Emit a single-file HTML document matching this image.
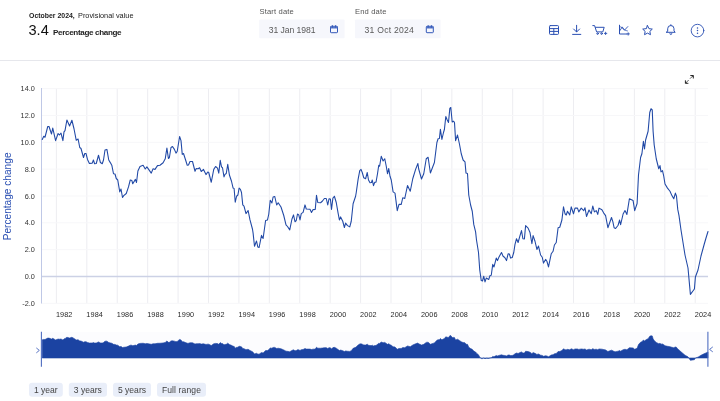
<!DOCTYPE html>
<html lang="en"><head><meta charset="utf-8"><title>Chart</title>
<style>
html,body{margin:0;padding:0;background:#fff;}
body{width:720px;height:401px;position:relative;overflow:hidden;font-family:"Liberation Sans","DejaVu Sans",sans-serif;color:#222;}
.abs{position:absolute;white-space:nowrap;}
.t1{left:29px;top:9.5px;font-size:7.9px;line-height:12px;color:#222;}
.t1 b{font-weight:700;color:#222;}
.big{left:28.5px;top:21px;font-size:14.6px;line-height:18px;color:#111;}
.pc{left:53px;top:27.5px;font-size:8.1px;line-height:10px;font-weight:700;color:#222;letter-spacing:-0.35px;}
.lbl{font-size:7.6px;line-height:10px;color:#555;top:6.7px;letter-spacing:0.15px;}
.inp{top:19.5px;height:18.9px;width:85.5px;}
.inp span{position:absolute;left:9.5px;top:5.1px;font-size:8.6px;line-height:10px;color:#5a5a5a;letter-spacing:0.3px;}
.sep{left:0;top:60px;width:720px;height:1px;background:#e6e7ec;}
.btn{top:383.3px;height:12.7px;font-size:8.55px;line-height:14.6px;color:#444;text-align:center;}
svg{position:absolute;left:0;top:0;}
svg text{font-family:"Liberation Sans","DejaVu Sans",sans-serif;}
</style></head><body>
<svg width="720" height="401" viewBox="0 0 720 401">
<rect x="259.200" y="19.400" width="85.400" height="18.900" rx="1" fill="#f6f7fc"/>
<rect x="355" y="19.400" width="85.600" height="18.900" rx="1" fill="#f6f7fc"/>
<rect x="29" y="382.700" width="33.800" height="14.100" rx="3" fill="#e9eef9"/>
<rect x="68.800" y="382.700" width="38.200" height="14.100" rx="3" fill="#e9eef9"/>
<rect x="113" y="382.700" width="38" height="14.100" rx="3" fill="#e9eef9"/>
<rect x="157" y="382.700" width="49" height="14.100" rx="3" fill="#e9eef9"/>
</svg>
<div class="abs t1" style="transform-origin:0 0;transform:scaleX(0.877)"><b>October 2024,</b></div>
<div class="abs t1" style="left:78.3px;transform-origin:0 0;transform:scaleX(0.93)">Provisional value</div>
<div class="abs big">3.4</div>
<div class="abs pc">Percentage change</div>
<div class="abs lbl" style="left:259.5px">Start date</div>
<div class="abs inp" style="left:259.2px"><span style="letter-spacing:-0.05px">31 Jan 1981</span></div>
<div class="abs lbl" style="left:355px">End date</div>
<div class="abs inp" style="left:355px"><span style="letter-spacing:0.25px">31 Oct 2024</span></div>
<div class="abs sep"></div>
<div class="abs btn" style="left:29.3px;width:33px">1 year</div>
<div class="abs btn" style="left:69px;width:37.7px">3 years</div>
<div class="abs btn" style="left:113.3px;width:37.4px">5 years</div>
<div class="abs btn" style="left:157.3px;width:48.4px;letter-spacing:0.12px">Full range</div>
<svg width="720" height="401" viewBox="0 0 720 401">
<!-- calendar icons -->
<g id="cal1" transform="translate(330,25)" fill="none" stroke="#3358b8" stroke-width="1">
<rect x="0.5" y="1.300" width="7" height="6.400" rx="0.700"/>
<rect x="0.500" y="1.300" width="7" height="2.200" fill="#5475c8" stroke="none"/>
<line x1="2.400" y1="0.200" x2="2.400" y2="2.600"/><line x1="5.600" y1="0.200" x2="5.600" y2="2.600"/>
</g>
<g transform="translate(425.800,25)" fill="none" stroke="#3358b8" stroke-width="1">
<rect x="0.5" y="1.300" width="7" height="6.400" rx="0.700"/>
<rect x="0.500" y="1.300" width="7" height="2.200" fill="#5475c8" stroke="none"/>
<line x1="2.400" y1="0.200" x2="2.400" y2="2.600"/><line x1="5.600" y1="0.200" x2="5.600" y2="2.600"/>
</g>
<!-- toolbar icons -->
<g fill="none" stroke="#2b50b3" stroke-width="1" stroke-linecap="round" stroke-linejoin="round">
<!-- table -->
<rect x="549.5" y="25.600" width="9" height="8.800" rx="0.800"/>
<line x1="549.5" y1="28.600" x2="558.5" y2="28.600"/><line x1="549.5" y1="31.400" x2="558.5" y2="31.400"/><line x1="553.800" y1="28.600" x2="553.800" y2="34.400"/>
<!-- download -->
<path d="M576.6 25.3V31.8M573.6 29l3 3 3-3M572.6 34.4h8.2"/>
<!-- cart -->
<path d="M592.8 25.6h1.8l2 6.3h6.2l1.4-4.6h-8.6"/>
<circle cx="597.6" cy="33.6" r="0.8"/><circle cx="601.6" cy="33.6" r="0.8"/>
<path d="M604.4 33.4h2.4M605.6 32.2v2.4" stroke-width="0.9"/>
<!-- chart -->
<path d="M619.5 25.2v8.8h7.5"/>
<path d="M620 30.5l2.2-3.6 2.3 3.3 3.3-3.6" stroke-width="0.9"/>
<path d="M620 26.5c2 0 3.5 4.500 7.500 4.500" stroke-width="0.7"/>
<path d="M627 33.900h2.4M628.2 32.800v2.300" stroke-width="0.9"/>
<!-- star -->
<path d="M647.5 25.600l1.450 3.050 3.350 0.450-2.450 2.300 0.620 3.300-2.970-1.620-2.970 1.620 0.620-3.300-2.450-2.300 3.350-0.450z"/>
<!-- bell -->
<path d="M666.500 32.300h8.700l-1.200-1.400v-2.200a3.150 3.150 0 0 0-6.300 0v2.200zM669.900 33.600a0.950 0.950 0 0 0 1.900 0M670.850 24.700v0.700"/>
<!-- more -->
<circle cx="697.5" cy="30.600" r="6.300" stroke-width="0.9"/>
</g>
<g fill="#2b50b3"><circle cx="697.5" cy="27.900" r="0.750"/><circle cx="697.5" cy="30.600" r="0.750"/><circle cx="697.5" cy="33.300" r="0.750"/></g>
<!-- expand -->
<g stroke="#222" fill="none" stroke-linecap="butt">
<path d="M690 78.700L693 75.700M688.700 80L685.600 83.100" stroke="#444" stroke-width="0.850"/>
<path d="M690.300 75.500h3v3" stroke-width="0.950"/><path d="M685.400 80.300v3h3" stroke-width="0.950"/>
<path d="M691.600 75.500h1.700v1.700z" fill="#222" stroke="none"/><path d="M685.400 81.600v1.700h1.700z" fill="#222" stroke="none"/>
</g>
<!-- grid -->
<g stroke="#ededf1" stroke-width="1" shape-rendering="auto"><line x1="56.40" y1="88" x2="56.40" y2="303.5"/><line x1="86.82" y1="88" x2="86.82" y2="303.5"/><line x1="117.24" y1="88" x2="117.24" y2="303.5"/><line x1="147.66" y1="88" x2="147.66" y2="303.5"/><line x1="178.08" y1="88" x2="178.08" y2="303.5"/><line x1="208.50" y1="88" x2="208.50" y2="303.5"/><line x1="238.92" y1="88" x2="238.92" y2="303.5"/><line x1="269.34" y1="88" x2="269.34" y2="303.5"/><line x1="299.76" y1="88" x2="299.76" y2="303.5"/><line x1="330.18" y1="88" x2="330.18" y2="303.5"/><line x1="360.60" y1="88" x2="360.60" y2="303.5"/><line x1="391.02" y1="88" x2="391.02" y2="303.5"/><line x1="421.44" y1="88" x2="421.44" y2="303.5"/><line x1="451.86" y1="88" x2="451.86" y2="303.5"/><line x1="482.28" y1="88" x2="482.28" y2="303.5"/><line x1="512.70" y1="88" x2="512.70" y2="303.5"/><line x1="543.12" y1="88" x2="543.12" y2="303.5"/><line x1="573.54" y1="88" x2="573.54" y2="303.5"/><line x1="603.96" y1="88" x2="603.96" y2="303.5"/><line x1="634.38" y1="88" x2="634.38" y2="303.5"/><line x1="664.80" y1="88" x2="664.80" y2="303.5"/><line x1="695.22" y1="88" x2="695.22" y2="303.5"/></g>
<g stroke="#f7f7f9" stroke-width="1"><line x1="41.5" y1="88.62" x2="708" y2="88.62"/><line x1="41.5" y1="115.46" x2="708" y2="115.46"/><line x1="41.5" y1="142.30" x2="708" y2="142.30"/><line x1="41.5" y1="169.14" x2="708" y2="169.14"/><line x1="41.5" y1="195.98" x2="708" y2="195.98"/><line x1="41.5" y1="222.82" x2="708" y2="222.82"/><line x1="41.5" y1="249.66" x2="708" y2="249.66"/><line x1="41.5" y1="303.34" x2="708" y2="303.34"/></g>
<line x1="41.500" y1="276.500" x2="708" y2="276.500" stroke="#ccd1e5" stroke-width="1.300"/>
<line x1="41.500" y1="88" x2="41.500" y2="303.500" stroke="#bfc8e6" stroke-width="1"/>
<g font-size="7.300" fill="#333"><text x="34.8" y="91.22" text-anchor="end">14.0</text><text x="34.8" y="118.06" text-anchor="end">12.0</text><text x="34.8" y="144.90" text-anchor="end">10.0</text><text x="34.8" y="171.74" text-anchor="end">8.0</text><text x="34.8" y="198.58" text-anchor="end">6.0</text><text x="34.8" y="225.42" text-anchor="end">4.0</text><text x="34.8" y="252.26" text-anchor="end">2.0</text><text x="34.8" y="279.10" text-anchor="end">0.0</text><text x="34.8" y="305.94" text-anchor="end">-2.0</text></g>
<g font-size="7.300" fill="#2a2a2a"><text x="55.90" y="317" letter-spacing="0.1">1982</text><text x="86.32" y="317" letter-spacing="0.1">1984</text><text x="116.74" y="317" letter-spacing="0.1">1986</text><text x="147.16" y="317" letter-spacing="0.1">1988</text><text x="177.58" y="317" letter-spacing="0.1">1990</text><text x="208.00" y="317" letter-spacing="0.1">1992</text><text x="238.42" y="317" letter-spacing="0.1">1994</text><text x="268.84" y="317" letter-spacing="0.1">1996</text><text x="299.26" y="317" letter-spacing="0.1">1998</text><text x="329.68" y="317" letter-spacing="0.1">2000</text><text x="360.10" y="317" letter-spacing="0.1">2002</text><text x="390.52" y="317" letter-spacing="0.1">2004</text><text x="420.94" y="317" letter-spacing="0.1">2006</text><text x="451.36" y="317" letter-spacing="0.1">2008</text><text x="481.78" y="317" letter-spacing="0.1">2010</text><text x="512.20" y="317" letter-spacing="0.1">2012</text><text x="542.62" y="317" letter-spacing="0.1">2014</text><text x="573.04" y="317" letter-spacing="0.1">2016</text><text x="603.46" y="317" letter-spacing="0.1">2018</text><text x="633.88" y="317" letter-spacing="0.1">2020</text><text x="664.30" y="317" letter-spacing="0.1">2022</text><text x="694.72" y="317" letter-spacing="0.1">2024</text></g>
<text transform="translate(10.700,196.400) rotate(-90)" text-anchor="middle" font-size="10.150" fill="#2b50b3">Percentage change</text>
<polyline points="42.25,139.40 43.75,136.25 45.00,137.25 47.75,126.50 49.00,126.50 51.50,134.00 52.75,128.10 55.60,140.60 58.10,133.50 59.40,135.00 61.00,133.10 62.90,140.60 64.00,131.90 65.00,130.60 66.90,120.00 69.60,126.00 71.90,120.25 74.00,128.75 76.25,140.30 78.10,139.00 79.75,147.50 81.00,148.50 83.50,157.50 84.75,153.50 86.00,153.50 87.50,159.40 89.40,163.50 92.25,163.10 93.40,160.00 94.60,163.75 96.25,163.50 98.50,155.25 100.40,162.50 102.25,163.75 103.50,160.00 105.00,150.00 106.90,149.40 108.75,160.00 110.60,163.10 111.90,165.60 113.50,173.75 115.00,174.00 116.25,178.50 117.75,180.00 119.75,191.90 121.00,189.00 122.50,197.50 123.75,195.60 126.25,193.50 128.50,186.90 130.25,180.00 131.90,180.60 132.75,183.75 135.40,179.40 136.50,182.50 137.90,171.00 140.00,166.50 143.10,165.25 145.25,169.00 146.90,166.90 151.25,173.10 153.10,168.75 155.00,169.40 157.50,165.60 160.00,165.25 163.10,162.75 165.25,158.75 166.90,148.10 168.40,158.50 169.40,157.50 171.00,147.50 172.50,146.50 174.40,149.40 176.00,153.10 177.25,151.25 179.60,136.50 181.00,140.60 182.25,154.40 183.50,153.50 185.60,160.00 187.25,165.25 188.50,165.00 190.00,161.50 192.50,161.50 195.00,171.25 196.25,168.50 198.10,168.75 199.60,167.75 201.25,171.50 203.50,169.40 206.00,174.60 207.75,172.00 208.75,172.50 211.25,182.25 213.75,169.40 215.60,166.50 217.50,168.10 218.75,173.10 220.25,160.40 221.50,166.90 222.50,167.75 224.00,176.90 225.00,174.40 226.25,173.50 227.75,164.40 229.40,175.00 231.50,181.25 233.10,188.10 234.10,188.50 235.25,202.25 236.60,196.25 237.90,195.00 239.10,188.10 240.40,189.40 241.50,192.50 242.75,204.90 244.00,206.10 246.00,213.60 248.10,210.50 250.00,219.90 252.50,229.25 253.10,233.10 254.50,246.20 256.50,241.00 257.80,246.90 259.10,247.50 261.50,235.40 263.10,238.50 265.60,220.50 267.50,219.90 268.75,214.25 270.25,200.25 271.90,203.00 273.10,197.00 274.75,196.50 276.70,205.00 278.20,202.70 281.00,207.00 283.75,215.50 286.00,224.90 287.50,226.50 289.75,229.90 291.90,219.25 293.50,214.90 295.00,221.75 296.25,220.50 297.50,214.00 298.75,214.90 300.00,219.90 301.25,213.60 303.10,212.40 305.00,204.90 306.25,209.00 310.00,209.25 311.50,212.40 313.10,209.60 315.25,209.40 316.50,195.25 317.75,202.50 320.60,202.75 322.50,201.00 324.40,198.50 326.25,198.50 327.75,205.00 329.00,198.75 330.40,199.00 331.50,209.40 332.90,198.10 334.40,196.25 336.25,202.50 338.10,213.10 339.40,220.00 340.60,216.90 342.75,221.25 344.40,227.50 345.60,223.10 347.50,225.60 349.75,226.90 351.25,221.25 353.10,203.75 355.60,196.25 356.25,192.50 358.10,179.40 359.75,170.60 361.00,169.40 362.25,172.50 363.75,177.75 365.60,178.75 367.25,172.50 368.50,180.00 370.00,182.75 371.50,182.50 372.25,180.00 373.50,185.60 374.75,182.25 376.00,182.25 377.50,173.75 378.75,165.25 379.60,166.25 381.25,156.25 383.10,161.00 384.75,158.75 386.25,166.25 387.50,173.75 388.75,168.50 390.00,176.25 391.25,180.00 393.10,191.90 395.00,193.10 397.25,210.60 399.00,204.40 401.25,204.40 402.75,197.75 404.75,198.50 407.50,185.60 410.25,191.25 412.75,178.75 415.60,169.40 417.90,163.50 418.70,169.00 421.50,179.00 423.75,173.75 426.25,158.75 428.10,157.25 430.40,173.00 434.40,162.50 436.90,142.50 438.10,138.75 439.40,138.50 440.40,129.40 441.90,139.40 443.50,132.50 444.40,129.50 445.80,116.50 447.00,119.50 448.50,122.50 449.80,108.50 450.80,107.50 452.20,122.00 453.50,121.20 454.50,122.50 455.60,140.60 457.50,135.00 459.40,143.75 461.25,153.75 463.10,160.00 465.00,161.90 466.00,173.10 467.50,173.50 468.75,195.00 470.60,205.00 472.25,211.25 473.75,224.40 475.60,231.90 476.50,240.00 478.50,252.50 479.75,270.00 481.25,280.60 482.50,281.00 483.75,276.25 485.00,281.90 486.25,278.10 488.75,279.40 490.00,275.60 491.25,275.25 492.75,264.40 494.00,266.90 496.25,258.10 497.50,260.60 499.00,256.90 501.50,252.50 503.10,256.25 504.75,257.50 506.50,260.60 508.10,253.75 509.40,254.00 510.60,258.10 512.25,257.50 513.75,252.50 515.00,244.40 516.50,238.75 518.10,242.50 520.00,235.60 521.50,230.60 522.90,238.75 524.40,239.00 525.60,225.60 528.10,228.10 530.00,232.50 531.90,243.75 533.10,235.60 535.00,241.25 536.90,249.40 538.50,246.10 540.60,255.00 542.25,257.25 543.50,263.10 545.60,259.40 546.90,261.25 548.50,266.90 551.25,253.75 553.10,251.25 554.40,245.00 556.25,242.50 558.10,227.75 559.75,227.25 561.90,220.00 563.50,206.90 565.00,213.75 566.25,215.00 567.50,211.25 569.75,215.00 571.25,206.90 573.50,213.75 575.00,208.10 577.50,208.10 578.75,211.90 581.25,208.10 583.75,210.60 585.00,207.75 586.50,216.50 589.00,210.00 591.25,213.75 592.75,206.00 594.40,211.90 596.25,210.60 597.75,214.40 599.00,208.10 601.90,209.75 603.75,213.10 605.60,215.60 607.90,227.75 609.75,222.50 611.50,217.50 612.90,221.90 614.10,227.75 615.60,228.50 618.10,225.25 619.60,220.00 620.60,224.75 623.10,214.00 625.00,210.60 626.90,214.40 629.40,198.75 633.10,200.60 634.70,210.60 637.10,203.50 638.50,175.00 640.60,157.50 641.90,153.75 643.40,141.25 644.50,149.00 645.60,140.00 648.10,131.25 649.75,112.50 651.00,108.75 652.25,110.00 653.10,131.25 654.20,145.00 656.25,158.75 658.75,168.75 660.00,165.60 661.00,171.90 662.50,170.60 663.75,176.25 665.00,184.00 667.50,188.10 670.00,191.25 671.90,195.60 673.75,198.75 675.40,193.10 676.50,196.25 677.75,209.40 679.00,215.60 681.00,230.00 685.00,255.00 688.00,268.00 690.40,294.40 694.40,289.00 695.40,277.00 698.00,270.00 701.00,256.00 704.00,245.00 706.00,238.00 708.00,231.50" fill="none" stroke="#2149a6" stroke-width="1.080" stroke-linejoin="round" stroke-linecap="round"/>
<!-- navigator -->
<rect x="41.500" y="332" width="666.500" height="26" fill="#fcfcfe"/>
<path d="M42.25,358.00 L42.25,339.82 L43.75,339.40 L45.00,339.53 L47.75,338.10 L49.00,338.10 L51.50,339.10 L52.75,338.32 L55.60,339.97 L58.10,339.03 L59.40,339.23 L61.00,338.98 L62.90,339.97 L64.00,338.82 L65.00,338.65 L66.90,337.24 L69.60,338.04 L71.90,337.28 L74.00,338.40 L76.25,339.93 L78.10,339.76 L79.75,340.89 L81.00,341.02 L83.50,342.22 L84.75,341.69 L86.00,341.69 L87.50,342.47 L89.40,343.01 L92.25,342.96 L93.40,342.55 L94.60,343.05 L96.25,343.01 L98.50,341.92 L100.40,342.88 L102.25,343.05 L103.50,342.55 L105.00,341.22 L106.90,341.14 L108.75,342.55 L110.60,342.96 L111.90,343.29 L113.50,344.37 L115.00,344.40 L116.25,345.00 L117.75,345.20 L119.75,346.78 L121.00,346.39 L122.50,347.52 L123.75,347.27 L126.25,346.99 L128.50,346.12 L130.25,345.20 L131.90,345.28 L132.75,345.70 L135.40,345.12 L136.50,345.53 L137.90,344.01 L140.00,343.41 L143.10,343.24 L145.25,343.74 L146.90,343.46 L151.25,344.29 L153.10,343.71 L155.00,343.79 L157.50,343.29 L160.00,343.24 L163.10,342.91 L165.25,342.38 L166.90,340.97 L168.40,342.35 L169.40,342.22 L171.00,340.89 L172.50,340.76 L174.40,341.14 L176.00,341.63 L177.25,341.39 L179.60,339.43 L181.00,339.97 L182.25,341.80 L183.50,341.69 L185.60,342.55 L187.25,343.24 L188.50,343.21 L190.00,342.75 L192.50,342.75 L195.00,344.04 L196.25,343.68 L198.10,343.71 L199.60,343.58 L201.25,344.07 L203.50,343.79 L206.00,344.48 L207.75,344.14 L208.75,344.21 L211.25,345.50 L213.75,343.79 L215.60,343.41 L217.50,343.62 L218.75,344.29 L220.25,342.60 L221.50,343.46 L222.50,343.58 L224.00,344.79 L225.00,344.46 L226.25,344.34 L227.75,343.13 L229.40,344.54 L231.50,345.37 L233.10,346.27 L234.10,346.33 L235.25,348.15 L236.60,347.36 L237.90,347.19 L239.10,346.27 L240.40,346.45 L241.50,346.86 L242.75,348.50 L244.00,348.66 L246.00,349.66 L248.10,349.25 L250.00,350.49 L252.50,351.73 L253.10,352.24 L254.50,353.98 L256.50,353.29 L257.80,354.07 L259.10,354.15 L261.50,352.55 L263.10,352.96 L265.60,350.57 L267.50,350.49 L268.75,349.74 L270.25,347.89 L271.90,348.25 L273.10,347.46 L274.75,347.39 L276.70,348.52 L278.20,348.21 L281.00,348.78 L283.75,349.91 L286.00,351.16 L287.50,351.37 L289.75,351.82 L291.90,350.41 L293.50,349.83 L295.00,350.74 L296.25,350.57 L297.50,349.71 L298.75,349.83 L300.00,350.49 L301.25,349.66 L303.10,349.50 L305.00,348.50 L306.25,349.05 L310.00,349.08 L311.50,349.50 L313.10,349.13 L315.25,349.10 L316.50,347.22 L317.75,348.18 L320.60,348.22 L322.50,347.99 L324.40,347.65 L326.25,347.65 L327.75,348.52 L329.00,347.69 L330.40,347.72 L331.50,349.10 L332.90,347.60 L334.40,347.36 L336.25,348.18 L338.10,349.59 L339.40,350.51 L340.60,350.09 L342.75,350.67 L344.40,351.50 L345.60,350.92 L347.50,351.25 L349.75,351.42 L351.25,350.67 L353.10,348.35 L355.60,347.36 L356.25,346.86 L358.10,345.12 L359.75,343.95 L361.00,343.79 L362.25,344.21 L363.75,344.90 L365.60,345.03 L367.25,344.21 L368.50,345.20 L370.00,345.57 L371.50,345.53 L372.25,345.20 L373.50,345.94 L374.75,345.50 L376.00,345.50 L377.50,344.37 L378.75,343.24 L379.60,343.38 L381.25,342.05 L383.10,342.68 L384.75,342.38 L386.25,343.38 L387.50,344.37 L388.75,343.68 L390.00,344.70 L391.25,345.20 L393.10,346.78 L395.00,346.94 L397.25,349.26 L399.00,348.44 L401.25,348.44 L402.75,347.55 L404.75,347.65 L407.50,345.94 L410.25,346.69 L412.75,345.03 L415.60,343.79 L417.90,343.01 L418.70,343.74 L421.50,345.07 L423.75,344.37 L426.25,342.38 L428.10,342.18 L430.40,344.27 L434.40,342.88 L436.90,340.23 L438.10,339.73 L439.40,339.70 L440.40,338.49 L441.90,339.82 L443.50,338.90 L444.40,338.50 L445.80,336.78 L447.00,337.18 L448.50,337.57 L449.80,335.72 L450.80,335.58 L452.20,337.51 L453.50,337.40 L454.50,337.57 L455.60,339.97 L457.50,339.23 L459.40,340.39 L461.25,341.72 L463.10,342.55 L465.00,342.80 L466.00,344.29 L467.50,344.34 L468.75,347.19 L470.60,348.52 L472.25,349.35 L473.75,351.09 L475.60,352.08 L476.50,353.16 L478.50,354.82 L479.75,357.14 L481.25,358.54 L482.50,358.60 L483.75,357.97 L485.00,358.72 L486.25,358.21 L488.75,358.38 L490.00,357.88 L491.25,357.83 L492.75,356.40 L494.00,356.73 L496.25,355.56 L497.50,355.89 L499.00,355.40 L501.50,354.82 L503.10,355.31 L504.75,355.48 L506.50,355.89 L508.10,354.98 L509.40,355.02 L510.60,355.56 L512.25,355.48 L513.75,354.82 L515.00,353.74 L516.50,352.99 L518.10,353.49 L520.00,352.58 L521.50,351.91 L522.90,352.99 L524.40,353.03 L525.60,351.25 L528.10,351.58 L530.00,352.16 L531.90,353.66 L533.10,352.58 L535.00,353.32 L536.90,354.41 L538.50,353.97 L540.60,355.15 L542.25,355.45 L543.50,356.22 L545.60,355.73 L546.90,355.98 L548.50,356.73 L551.25,354.98 L553.10,354.65 L554.40,353.82 L556.25,353.49 L558.10,351.53 L559.75,351.47 L561.90,350.51 L563.50,348.77 L565.00,349.68 L566.25,349.84 L567.50,349.35 L569.75,349.84 L571.25,348.77 L573.50,349.68 L575.00,348.93 L577.50,348.93 L578.75,349.43 L581.25,348.93 L583.75,349.26 L585.00,348.88 L586.50,350.04 L589.00,349.18 L591.25,349.68 L592.75,348.65 L594.40,349.43 L596.25,349.26 L597.75,349.76 L599.00,348.93 L601.90,349.15 L603.75,349.59 L605.60,349.92 L607.90,351.53 L609.75,350.84 L611.50,350.17 L612.90,350.76 L614.10,351.53 L615.60,351.63 L618.10,351.20 L619.60,350.51 L620.60,351.14 L623.10,349.71 L625.00,349.26 L626.90,349.76 L629.40,347.69 L633.10,347.93 L634.70,349.26 L637.10,348.32 L638.50,344.54 L640.60,342.22 L641.90,341.72 L643.40,340.06 L644.50,341.09 L645.60,339.89 L648.10,338.73 L649.75,336.25 L651.00,335.75 L652.25,335.92 L653.10,338.73 L654.20,340.56 L656.25,342.38 L658.75,343.71 L660.00,343.29 L661.00,344.13 L662.50,343.95 L663.75,344.70 L665.00,345.73 L667.50,346.27 L670.00,346.69 L671.90,347.27 L673.75,347.69 L675.40,346.94 L676.50,347.36 L677.75,349.10 L679.00,349.92 L681.00,351.83 L685.00,355.15 L688.00,356.87 L690.40,360.37 L694.40,359.66 L695.40,358.07 L698.00,357.14 L701.00,355.28 L704.00,353.82 L706.00,352.89 L708.00,352.03 L708.00,358.00 Z" fill="#1b43a2" stroke="#1b43a2" stroke-width="0.600"/>
<line x1="41.400" y1="331.800" x2="41.400" y2="366.800" stroke="#4f6dc0" stroke-width="1.100"/>
<line x1="707.900" y1="331.800" x2="707.900" y2="366.800" stroke="#4f6dc0" stroke-width="1.100"/>
<path d="M36.300 347.900l3 2.500-3 2.500" fill="none" stroke="#4867bd" stroke-width="0.900"/>
<path d="M712.800 346.900l-3.200 2.500 3.200 2.500" fill="none" stroke="#4867bd" stroke-width="0.900"/>
</svg>
</body></html>
